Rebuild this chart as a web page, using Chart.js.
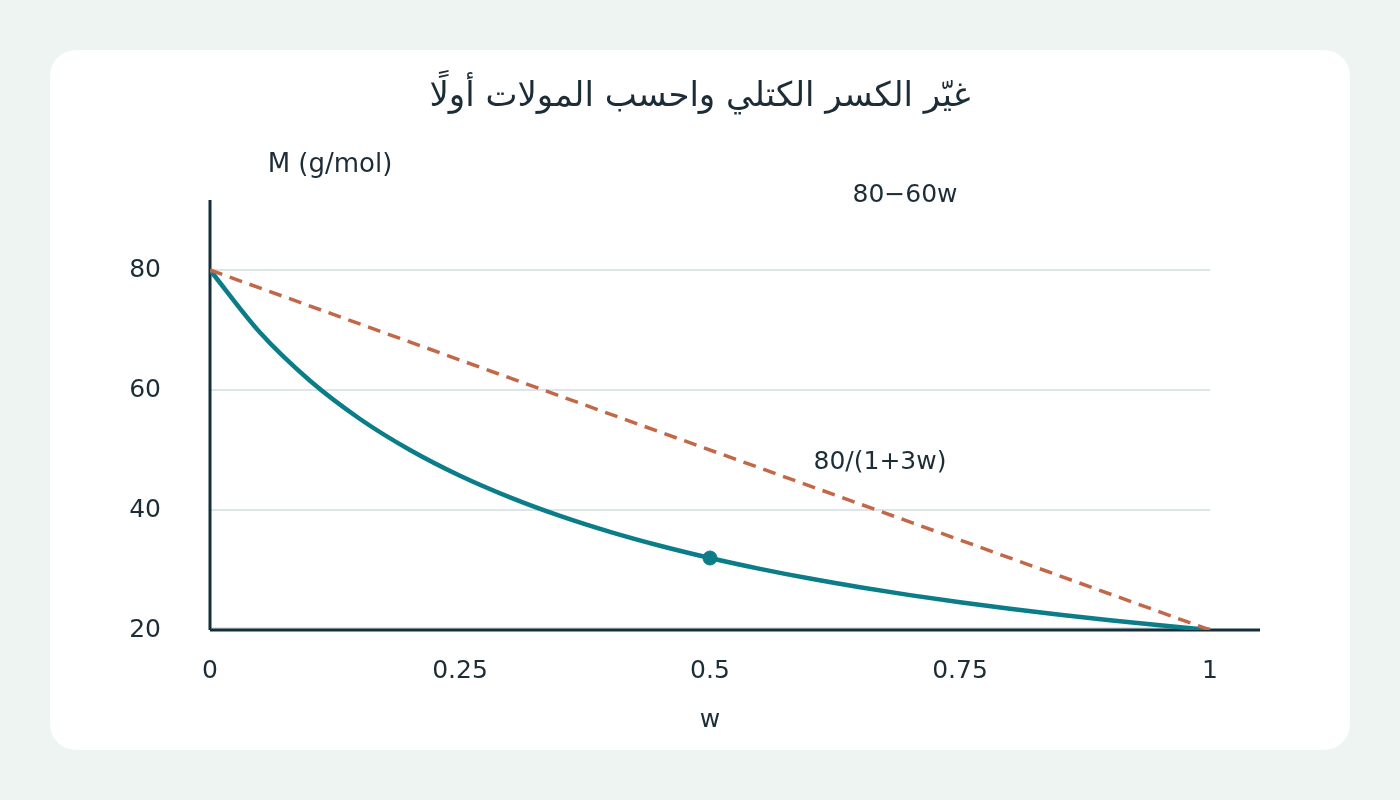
<!DOCTYPE html>
<html>
<head>
<meta charset="utf-8">
<script src="https://cdn.jsdelivr.net/npm/chart.js@4"></script>
<style>
    body { margin: 0; background: #eef4f2; width: 1400px; height: 800px; overflow: hidden; }
    .card { position: absolute; left: 50px; top: 50px; width: 1300px; height: 700px; background: #fff; border-radius: 26px; }
    canvas { display: block; }
</style>
</head>
<body>
<div class="card"><canvas id="chart" width="1300" height="700"></canvas></div>
<script>
// data
const titleText = 'غيّر الكسر الكتلي واحسب المولات أولًا';
const wValues = [0, 0.05, 0.1, 0.15, 0.2, 0.25, 0.3, 0.35, 0.4, 0.45, 0.5, 0.55, 0.6, 0.65, 0.7, 0.75, 0.8, 0.85, 0.9, 0.95, 1];
const curveValues = [80, 69.57, 61.54, 55.17, 50, 45.71, 42.11, 39.02, 36.36, 34.04, 32, 30.19, 28.57, 27.12, 25.81, 24.62, 23.53, 22.54, 21.62, 20.78, 20];
const lineW = [0, 1];
const lineValues = [80, 20];
const markW = [0.5];
const markValues = [32];
const xTicks = [0, 0.25, 0.5, 0.75, 1];
const xTickLabels = ['0', '0.25', '0.5', '0.75', '1'];
const yTicks = [20, 40, 60, 80];

const textColor = '#1c2d38';
const axisColor = '#152f3a';
const gridColor = '#d2dede';
const teal = '#0b7d88';
const rust = '#c26748';
const font = 'DejaVu Sans';

const toPoints = (xs, ys) => xs.map((x, i) => ({ x: x, y: ys[i] }));

// grid + axes under the data, texts on top
const decor = {
    id: 'decor',
    beforeDatasetsDraw(chart) {
        const { ctx, scales: { x, y } } = chart;
        ctx.save();
        ctx.strokeStyle = gridColor;
        ctx.lineWidth = 1.5;
        yTicks.forEach(v => {
            const py = Math.round(y.getPixelForValue(v)) - (v === 20 ? 2 : 0);
            ctx.beginPath();
            ctx.moveTo(x.getPixelForValue(0), py);
            ctx.lineTo(x.getPixelForValue(1), py);
            ctx.stroke();
        });
        ctx.strokeStyle = axisColor;
        ctx.lineWidth = 3;
        const x0 = x.getPixelForValue(0);
        const yb = y.getPixelForValue(20);
        ctx.beginPath();
        ctx.moveTo(x0, y.top);
        ctx.lineTo(x0, yb);
        ctx.moveTo(x0, yb);
        ctx.lineTo(x.right, yb);
        ctx.stroke();
        ctx.restore();
    },
    afterDraw(chart) {
        const { ctx, scales: { x, y } } = chart;
        ctx.save();
        ctx.fillStyle = textColor;
        ctx.textAlign = 'center';
        ctx.textBaseline = 'middle';
        ctx.font = '34px "' + font + '"';
        ctx.fillText(titleText, chart.width / 2, 47);
        ctx.font = '26px "' + font + '"';
        ctx.fillText('M (g/mol)', 280, 115);
        ctx.font = '25px "' + font + '"';
        ctx.fillText('w', x.getPixelForValue(0.5), 670);
        ctx.fillText('80\u221260w', x.getPixelForValue(0.695), y.getPixelForValue(92.5));
        ctx.fillText('80/(1+3w)', x.getPixelForValue(0.67), y.getPixelForValue(48));
        ctx.restore();
    }
};

new Chart(document.getElementById('chart'), {
    type: 'scatter',
    data: {
        datasets: [{
            data: toPoints(lineW, lineValues),
            showLine: true,
            borderColor: rust,
            borderWidth: 3.5,
            borderDash: [13, 8],
            pointRadius: 0
        }, {
            data: toPoints(wValues, curveValues),
            showLine: true,
            borderColor: teal,
            borderWidth: 4.5,
            cubicInterpolationMode: 'monotone',
            pointRadius: 0
        }, {
            data: toPoints(markW, markValues),
            backgroundColor: teal,
            borderColor: teal,
            pointRadius: 7
        }]
    },
    options: {
        responsive: false,
        animation: false,
        layout: { padding: { left: 0, right: 90, top: 150, bottom: 0 } },
        plugins: {
            legend: { display: false },
            tooltip: { enabled: false },
            title: { display: false }
        },
        scales: {
            x: {
                type: 'linear', min: 0, max: 1.05,
                afterBuildTicks: s => { s.ticks = xTicks.map(v => ({ value: v })); },
                afterFit: s => { s.height = 120; },
                grid: { display: false, drawTicks: false },
                border: { display: false },
                ticks: { color: textColor, font: { family: font, size: 25 }, padding: 26, maxRotation: 0,
                    callback: (v, i) => xTickLabels[i] }
            },
            y: {
                min: 20, max: 91.67,
                afterBuildTicks: s => { s.ticks = yTicks.map(v => ({ value: v })); },
                afterFit: s => { s.width = 160; },
                grid: { display: false, drawTicks: false },
                border: { display: false },
                ticks: { color: textColor, font: { family: font, size: 25 }, padding: 49 }
            }
        }
    },
    plugins: [decor]
});
</script>
</body>
</html>
